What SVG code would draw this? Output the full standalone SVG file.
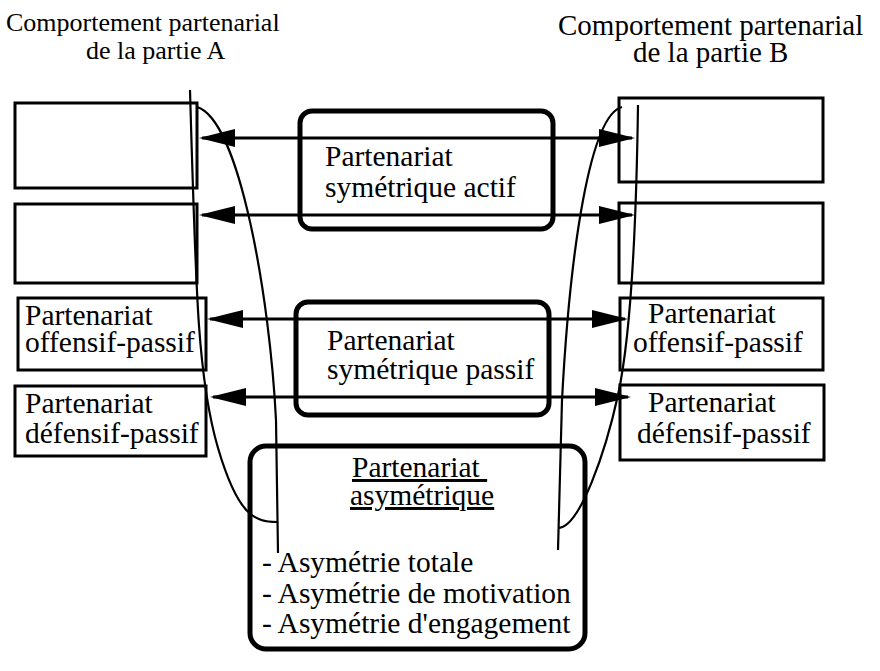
<svg xmlns="http://www.w3.org/2000/svg" width="880" height="671" viewBox="0 0 880 671">
<style>
  text { font-family: "Liberation Serif", "Times New Roman", serif; fill: #000; }
  .title { font-size: 26px; }
  .titleB { font-size: 29px; }
  .t { font-size: 29.5px; }
  .box { fill: none; stroke: #000; stroke-width: 3; }
  .rbox { fill: none; stroke: #000; stroke-width: 5; }
  .arrow { fill: none; stroke: #000; stroke-width: 3; marker-start: url(#ah); marker-end: url(#ah); }
  .curve { fill: none; stroke: #000; stroke-width: 2.2; }
</style>
<defs>
  <marker id="ah" markerUnits="userSpaceOnUse" markerWidth="36" markerHeight="20" viewBox="0 0 36 18" refX="33" refY="9" orient="auto-start-reverse">
    <path d="M0,0 L36,9 L0,18 z" fill="#000"/>
  </marker>
</defs>
<rect width="880" height="671" fill="#fff"/>

<g id="title-A">
  <text class="title" x="6" y="31">Comportement partenarial</text>
  <text class="title" x="86" y="59">de la partie A</text>
</g>
<g id="title-B">
  <text class="titleB" x="558" y="35">Comportement partenarial</text>
  <text class="titleB" x="633" y="62">de la partie B</text>
</g>

<g id="A1"><rect class="box" x="15" y="103" width="182" height="85"/></g>
<g id="A2"><rect class="box" x="15" y="204" width="182" height="79"/></g>
<g id="A3">
  <rect class="box" x="18" y="298" width="188" height="72"/>
  <text class="t" x="25" y="325">Partenariat</text>
  <text class="t" x="25" y="352">offensif-passif</text>
</g>
<g id="A4">
  <rect class="box" x="15" y="386" width="191" height="70"/>
  <text class="t" x="25" y="413">Partenariat</text>
  <text class="t" x="25" y="443">défensif-passif</text>
</g>

<g id="B1"><rect class="box" x="619" y="98" width="204" height="84"/></g>
<g id="B2"><rect class="box" x="619" y="203" width="204" height="80"/></g>
<g id="B3">
  <rect class="box" x="620" y="298" width="203" height="72"/>
  <text class="t" x="648" y="323">Partenariat</text>
  <text class="t" x="633" y="352">offensif-passif</text>
</g>
<g id="B4">
  <rect class="box" x="620" y="385" width="204" height="75"/>
  <text class="t" x="648" y="412">Partenariat</text>
  <text class="t" x="637" y="443">défensif-passif</text>
</g>

<g id="sym-actif">
  <rect class="rbox" x="300" y="111" width="253" height="118" rx="12"/>
  <text class="t" x="325" y="166">Partenariat</text>
  <text class="t" x="325" y="197">symétrique actif</text>
</g>
<g id="sym-passif">
  <rect class="rbox" x="296" y="302" width="253" height="113" rx="12"/>
  <text class="t" x="327" y="350">Partenariat</text>
  <text class="t" x="327" y="379">symétrique passif</text>
</g>
<g id="asym">
  <rect class="rbox" x="250" y="446" width="335" height="203" rx="16"/>
  <text class="t" x="352" y="477" text-decoration="underline" xml:space="preserve">Partenariat </text>
  <text class="t" x="350" y="505" text-decoration="underline">asymétrique</text>
  <text class="t" x="262" y="572">- Asymétrie totale</text>
  <text class="t" x="262" y="603">- Asymétrie de motivation</text>
  <text class="t" x="262" y="633">- Asymétrie d'engagement</text>
</g>

<g id="connectors">
  <line class="arrow" x1="202" y1="138" x2="632" y2="138"/>
  <line class="arrow" x1="202" y1="215" x2="632" y2="215"/>
  <line class="arrow" x1="210" y1="319" x2="625" y2="319"/>
  <line class="arrow" x1="213" y1="397" x2="628" y2="397"/>
  <path class="curve" d="M190,90 C196,300 198,380 218,448 S255,522 277,522"/>
  <path class="curve" d="M197,107 C240,120 270,300 276,420 L278,553"/>
  <path class="curve" d="M622,107 C590,115 570,250 562,400 L558,550"/>
  <path class="curve" d="M638,105 C636,250 630,340 618,395 S580,528 558,528"/>
</g>
</svg>
